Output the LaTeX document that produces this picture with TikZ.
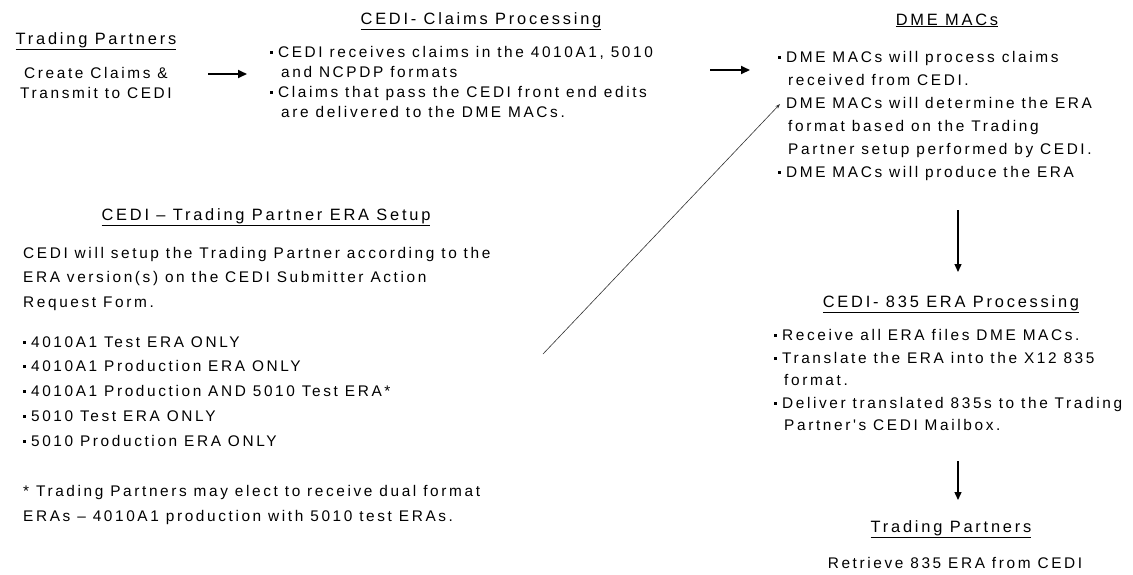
\documentclass[tikz,border=0pt]{standalone}
\usepackage{fontspec}
\usetikzlibrary{arrows.meta}
\newfontfamily\bodyfam{Liberation Sans}[LetterSpace=17]
\newcommand\bfnt{\bodyfam\fontsize{15.4}{17}\selectfont}
\newcommand\hfnt{\bodyfam\fontsize{16.4}{18}\selectfont}
\newcommand\bul{\raisebox{0.22em}{\rule{2.4pt}{2.4pt}}\hspace{5.5pt}}
\tikzset{
  body/.style={font=\bfnt, inner sep=0pt, anchor=base west},
  bodyc/.style={font=\bfnt, inner sep=0pt, anchor=base},
  head/.style={font=\hfnt, inner sep=0pt, anchor=base},
  flowh/.style={-{Triangle[length=9pt,width=8pt]}, line width=2pt},
  flowv/.style={-{Triangle[length=8pt,width=7pt]}, line width=1.3pt},
  thinarrow/.style={-{Stealth[length=5pt,width=3.5pt]}, line width=0.6pt, black!80},
}
\begin{document}
\begin{tikzpicture}[x=1pt,y=-1pt]
\useasboundingbox (0,0) rectangle (1133,574);
\fill[white] (0,0) rectangle (1133,574);

% Trading partners (left top)
\node[head] (tp1) at (96,44) {\underline{Trading Partners}};
\node[bodyc] (tp1a) at (96,78) {Create Claims \&};
\node[bodyc] (tp1b) at (96,98) {Transmit to CEDI};

% Claims processing
\node[head] (cph) at (481,24) {\underline{CEDI- Claims Processing}};
\node[body] (cp1) at (270,57) {\bul CEDI receives claims in the 4010A1, 5010};
\node[body] (cp2) at (281,77) {and NCPDP formats};
\node[body] (cp3) at (270,97) {\bul Claims that pass the CEDI front end edits};
\node[body] (cp4) at (281,117) {are delivered to the DME MACs.};

% DME MACs
\node[head] (dmh) at (947,25) {\underline{DME MACs}};
\node[body] (dm1) at (778,62) {\bul DME MACs will process claims};
\node[body] (dm2) at (788,85) {received from CEDI.};
\node[body] (dm3) at (785.9,108) {DME MACs will determine the ERA};
\node[body] (dm4) at (788,131) {format based on the Trading};
\node[body] (dm5) at (788,154) {Partner setup performed by CEDI.};
\node[body] (dm6) at (778,177) {\bul DME MACs will produce the ERA};

% 835 ERA processing
\node[head] (eph) at (951,307) {\underline{CEDI- 835 ERA Processing}};
\node[body] (ep1) at (774,340) {\bul Receive all ERA files DME MACs.};
\node[body] (ep2) at (774,363) {\bul Translate the ERA into the X12 835};
\node[body] (ep3) at (784,385) {format.};
\node[body] (ep4) at (774,408) {\bul Deliver translated 835s to the Trading};
\node[body] (ep5) at (784,430) {Partner's CEDI Mailbox.};

% Trading partners (bottom)
\node[head] (tp2) at (951,532) {\underline{Trading Partners}};
\node[bodyc] (tp2a) at (955,568) {Retrieve 835 ERA from CEDI};

% ERA setup
\node[head] (esh) at (266,220) {\underline{CEDI – Trading Partner ERA Setup}};
\node[body] (es1) at (23,258) {CEDI will setup the Trading Partner according to the};
\node[body] (es2) at (23,282) {ERA version(s) on the CEDI Submitter Action};
\node[body] (es3) at (23,307) {Request Form.};
\node[body] (eb1) at (23,347) {\bul 4010A1 Test ERA ONLY};
\node[body] (eb2) at (23,371) {\bul 4010A1 Production ERA ONLY};
\node[body] (eb3) at (23,396) {\bul 4010A1 Production AND 5010 Test ERA*};
\node[body] (eb4) at (23,421) {\bul 5010 Test ERA ONLY};
\node[body] (eb5) at (23,446) {\bul 5010 Production ERA ONLY};
\node[body] (fn1) at (23,496) {* Trading Partners may elect to receive dual format};
\node[body] (fn2) at (23,521) {ERAs – 4010A1 production with 5010 test ERAs.};

% connectors
\coordinate (a1s) at (208,74);
\coordinate (a1e) at (247,74);
\draw[flowh] (a1s) -- (a1e);
\coordinate (a2s) at (710,70);
\coordinate (a2e) at (750,70);
\draw[flowh] (a2s) -- (a2e);
\coordinate (a3s) at (958,210);
\coordinate (a3e) at (958,272);
\draw[flowv] (a3s) -- (a3e);
\coordinate (a4s) at (958,461);
\coordinate (a4e) at (958,500);
\draw[flowv] (a4s) -- (a4e);
\coordinate (dgs) at (543,354);
\coordinate (dge) at (780,104);
\draw[thinarrow] (dgs) -- (dge);
\end{tikzpicture}
\end{document}
